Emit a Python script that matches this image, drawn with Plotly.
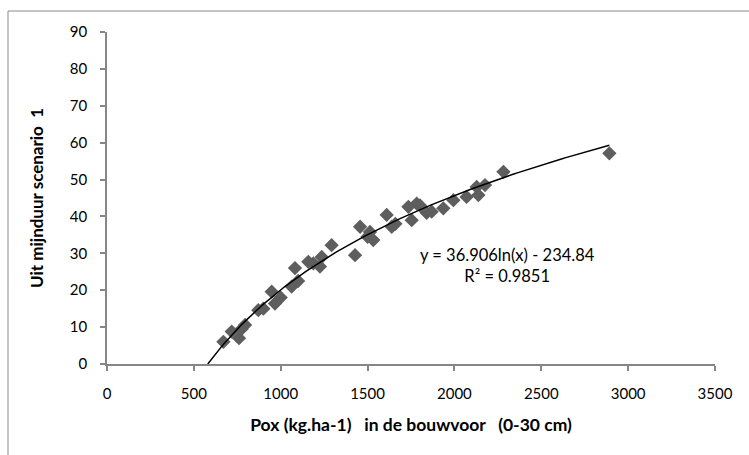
import numpy as np
import plotly.graph_objects as go

pox = [670, 718, 775, 760, 795, 871, 900, 948, 967, 1000, 1063, 1082, 1100, 1159, 1188,
       1226, 1236, 1293, 1428, 1457, 1500, 1514, 1533, 1610, 1639, 1660, 1735, 1754, 1783,
       1802, 1840, 1869, 1936, 1994, 2070, 2128, 2138, 2176, 2282, 2892]
uitmijn = [6.0, 8.8, 9.5, 7.0, 10.6, 14.6, 15.0, 19.6, 16.4, 18.0, 21.0, 26.0, 22.5, 27.7, 27.3,
           26.4, 29.0, 32.2, 29.5, 37.2, 34.5, 35.8, 33.6, 40.4, 37.2, 38.0, 42.6, 39.0, 43.5,
           43.0, 41.0, 41.3, 42.2, 44.4, 45.3, 48.0, 45.8, 48.5, 52.1, 57.1]
coef_a, coef_b = 36.906, -234.84
x_ticks = [0, 500, 1000, 1500, 2000, 2500, 3000, 3500]
y_ticks = [0, 10, 20, 30, 40, 50, 60, 70, 80, 90]

x_start = float(np.exp(-coef_b / coef_a))
trend_x = np.linspace(x_start, max(pox), 200)
trend_y = coef_a * np.log(trend_x) + coef_b

font = "Lato, Open Sans, sans-serif"
axis_color = "#868686"

fig = go.Figure()
fig.add_trace(go.Scatter(x=pox, y=uitmijn, mode="markers",
                         marker=dict(symbol="diamond", size=11, color="#5e5e5e",
                                     line=dict(width=0)),
                         showlegend=False))
fig.add_trace(go.Scatter(x=trend_x, y=trend_y, mode="lines",
                         line=dict(color="black", width=1.5), showlegend=False))

fig.update_layout(
    width=749, height=455,
    margin=dict(l=107, r=34, t=32, b=91),
    paper_bgcolor="white", plot_bgcolor="white",
    font=dict(family=font, size=15, color="black"),
    xaxis=dict(range=[0, 3500], tickvals=x_ticks, showgrid=False, zeroline=False,
               showline=True, linecolor=axis_color, linewidth=1.5,
               ticks="outside", ticklen=5, tickcolor=axis_color, tickwidth=1.5,
               tickfont=dict(size=15), ticklabelstandoff=10,
               title=dict(text="<b>Pox (kg.ha-1)   in de bouwvoor   (0-30 cm)</b>",
                          font=dict(size=17.5), standoff=18)),
    yaxis=dict(range=[0, 90], tickvals=y_ticks, showgrid=False, zeroline=False,
               showline=True, linecolor=axis_color, linewidth=1.5,
               ticks="outside", ticklen=5, tickcolor=axis_color, tickwidth=1.5,
               tickfont=dict(size=15), ticklabelstandoff=10,
               title=dict(text="<b>Uit mijnduur scenario  1</b>",
                          font=dict(size=17), standoff=22)),
    shapes=[dict(type="rect", xref="paper", yref="paper",
                 x0=(8 - 107) / 608, x1=1.2, y0=-0.5, y1=(364 - 11) / 332,
                 line=dict(color="#898989", width=1), layer="below")],
    annotations=[dict(x=(507 - 107) / 608, y=(364 - 288) / 332, xref="paper", yref="paper",
                      showarrow=False,
                      text="y = 36.906ln(x) - 234.84<br>R² = 0.9851",
                      font=dict(size=16.5), align="center")],
)
fig.write_html("out.html")
